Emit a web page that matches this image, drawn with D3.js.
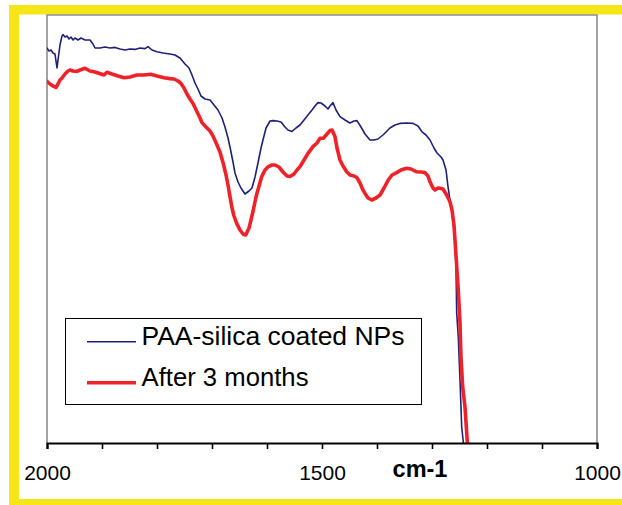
<!DOCTYPE html>
<html>
<head>
<meta charset="utf-8">
<script src="https://cdn.jsdelivr.net/npm/d3@7"></script>
<style>
  html, body { margin: 0; padding: 0; background: #ffffff; }
  svg { display: block; }
  text { font-family: Arial, "Liberation Sans", Helvetica, sans-serif; fill: #000; }
</style>
</head>
<body>
<svg id="chart" width="622" height="505"></svg>
<script>
// ---- Data (wavenumber cm-1, transmittance a.u.) ----
const seriesNames = ["PAA-silica coated NPs", "After 3 months"];
const seriesColors = ["#1f2178", "#ef2229"];

const paaWavenumber = [2000,1996.4,1992.7,1989.1,1985.5,1981.8,1980.0,1976.4,1972.7,1970.9,1967.3,1963.6,1960.0,1956.4,1952.7,1949.1,1943.6,1938.2,1930.9,1921.8,1916.4,1912.7,1903.6,1894.5,1885.5,1876.4,1867.3,1858.2,1849.1,1840.0,1830.9,1821.8,1816.4,1809.1,1800.0,1789.1,1776.4,1767.3,1758.2,1749.1,1741.8,1736.4,1730.9,1725.5,1720.0,1712.7,1703.6,1696.4,1689.1,1681.8,1676.4,1670.9,1667.3,1661.8,1658.2,1652.7,1647.3,1640.0,1632.7,1627.3,1621.8,1616.4,1610.9,1607.3,1601.8,1594.5,1589.1,1581.8,1574.5,1567.3,1561.8,1554.5,1547.3,1540.0,1532.7,1525.5,1518.2,1512.7,1507.3,1501.8,1494.5,1489.1,1485.5,1480.0,1474.5,1467.3,1458.2,1449.1,1441.8,1436.4,1429.1,1421.8,1412.7,1405.5,1398.2,1389.1,1381.8,1376.4,1367.3,1358.2,1345.5,1334.5,1325.5,1318.2,1310.9,1303.6,1296.4,1290.9,1283.6,1280.0,1274.5,1270.9,1267.3,1263.6,1260.0,1256.4,1255.1,1252.2,1249.1,1246.0,1243.1,1241.8];
const paaValues = [98.75,98.0,98.25,97.5,97.25,93.75,95.75,99.5,101.75,102.1,101.5,101.75,101.0,101.5,100.75,101.25,100.75,101.25,100.75,100.75,99.75,98.75,98.75,99.0,98.75,98.9,98.5,98.25,98.5,98.4,98.75,98.6,99.1,98.25,97.8,97.5,97.25,97.0,96.25,94.75,93.75,92.0,90.0,88.5,86.75,86.0,85.75,84.5,83.25,81.25,79.0,76.25,74.0,70.25,67.5,65.25,63.75,62.25,63.0,63.75,66.5,70.0,73.75,75.75,78.75,80.5,80.6,80.5,80.25,79.0,78.25,77.9,78.75,79.5,80.75,82.0,83.25,84.25,85.1,85.0,84.25,83.5,84.25,85.1,83.25,81.6,80.75,80.0,80.5,80.6,79.0,77.25,75.75,75.75,76.0,77.0,78.0,78.75,79.5,79.9,80.0,79.9,79.25,77.8,77.0,75.75,73.75,72.5,71.5,70.75,68.25,64.1,60.75,57.5,53.25,45.0,32.5,26.5,15.75,4.0,0.25,-1.75];

const agedWavenumber = [2000,1994.5,1989.1,1983.6,1980.0,1976.4,1972.7,1967.3,1961.8,1958.2,1952.7,1945.5,1940.0,1930.9,1921.8,1914.5,1907.3,1896.4,1890.9,1881.8,1870.9,1860.0,1849.1,1836.4,1823.6,1811.5,1800.0,1787.3,1776.4,1769.1,1761.8,1756.4,1750.9,1745.5,1740.0,1734.5,1727.3,1721.8,1718.2,1710.9,1703.6,1697.6,1690.9,1685.5,1679.5,1674.5,1670.9,1667.3,1663.6,1660.0,1655.1,1649.1,1643.6,1638.7,1632.7,1629.1,1624.9,1620.0,1614.5,1609.6,1603.6,1597.6,1590.9,1585.5,1578.2,1570.9,1563.6,1558.2,1550.9,1545.5,1540.0,1532.7,1525.5,1516.4,1509.1,1503.6,1497.6,1490.9,1485.5,1481.8,1476.4,1472.7,1467.3,1461.8,1455.1,1449.1,1441.8,1436.9,1430.9,1425.5,1421.8,1416.4,1409.6,1401.8,1394.5,1387.3,1379.5,1372.7,1364.2,1356.4,1346.0,1338.2,1327.8,1320.0,1312.7,1307.3,1303.6,1298.2,1294.5,1289.1,1285.5,1280.0,1273.3,1267.3,1263.6,1260.0,1256.4,1252.2,1249.1,1247.3,1244.2,1240.0,1235.8,1234.5];
const agedValues = [90.4,89.75,89.25,88.9,89.75,90.75,91.25,92.25,93.0,93.25,93.0,92.9,93.25,93.7,93.0,92.8,92.5,92.0,92.7,92.25,91.75,91.3,91.5,92.0,92.0,92.2,91.75,91.3,91.1,91.0,90.5,89.9,88.75,87.25,86.0,84.9,82.8,81.25,80.1,79.0,78.0,76.6,74.5,72.75,69.9,67.0,64.5,61.6,58.75,56.75,54.9,53.25,52.25,52.0,53.75,55.75,58.25,61.5,64.25,66.6,68.25,69.1,69.5,69.5,69.0,67.75,66.75,66.6,67.25,68.25,69.1,70.75,72.4,74.1,75.0,76.2,76.2,77.25,78.1,78.25,76.6,73.75,70.75,69.25,67.8,67.0,66.75,66.4,65.0,63.25,62.4,61.25,60.75,61.25,62.0,63.75,65.75,67.0,67.6,68.25,68.7,68.5,67.8,67.75,67.6,66.75,65.3,63.75,63.25,63.75,63.7,63.5,62.0,60.3,58.25,54.5,47.0,38.25,30.0,21.5,14.0,9.0,0.25,-1.75];

const xDomain = [2000, 1000];
const yDomain = [0, 107];
const xTickValues = [2000,1900,1800,1700,1600,1500,1400,1300,1200,1100,1000];
const xTickLabels = ["2000","1500","1000"];
const xTitle = "cm-1";

// ---- Layout ----
const W = 622, H = 505;
const plot = { left: 47, right: 597, top: 15, bottom: 443 };
const yellow = "#f5e617";

const svg = d3.select("#chart");

// yellow frame (left, top, bottom; right edge cropped)
svg.append("rect").attr("x", 9).attr("y", 5).attr("width", 10).attr("height", 500).attr("fill", yellow);
svg.append("rect").attr("x", 9).attr("y", 5).attr("width", W - 9).attr("height", 9.5).attr("fill", yellow);
svg.append("rect").attr("x", 9).attr("y", 499).attr("width", W - 9).attr("height", 6).attr("fill", yellow);

const x = d3.scaleLinear().domain(xDomain).range([plot.left, plot.right]);
const y = d3.scaleLinear().domain(yDomain).range([plot.bottom, plot.top]);

// plot frame (gray, left/top/right)
svg.append("path")
  .attr("d", `M${plot.left},${plot.bottom}V${plot.top}H${plot.right}V${plot.bottom}`)
  .attr("fill", "none").attr("stroke", "#8c8c8c").attr("stroke-width", 1.6);

// clip
svg.append("clipPath").attr("id", "clip")
  .append("rect").attr("x", plot.left).attr("y", plot.top)
  .attr("width", plot.right - plot.left).attr("height", plot.bottom - plot.top);

const series = [
  { name: seriesNames[0], color: seriesColors[0], width: 1.6, data: paaWavenumber.map((w, i) => [w, paaValues[i]]) },
  { name: seriesNames[1], color: seriesColors[1], width: 3.6, data: agedWavenumber.map((w, i) => [w, agedValues[i]]) }
];

const line = d3.line().x(d => x(d[0])).y(d => y(d[1])).curve(d3.curveLinear);

const g = svg.append("g").attr("clip-path", "url(#clip)");
series.forEach(s => {
  g.append("path").datum(s.data)
    .attr("d", line)
    .attr("fill", "none")
    .attr("stroke", s.color)
    .attr("stroke-width", s.width)
    .attr("stroke-linejoin", "round")
    .attr("stroke-linecap", "round");
});

// x axis
const axis = d3.axisBottom(x)
  .tickValues(xTickValues)
  .tickSize(6)
  .tickFormat(d => xTickLabels.includes(String(d)) ? String(d) : "");
const ax = svg.append("g").attr("transform", `translate(0,${plot.bottom})`).call(axis);
ax.select(".domain").attr("stroke", "#000").attr("stroke-width", 2.2);
ax.selectAll(".tick line").attr("stroke", "#000").attr("stroke-width", 1.6);
ax.selectAll(".tick text")
  .attr("y", 0).attr("dy", 0)
  .attr("transform", "translate(0,37)")
  .style("font-family", "Arial, 'Liberation Sans', sans-serif")
  .style("font-size", "21px")
  .attr("fill", "#000");

// axis title
svg.append("text")
  .attr("x", 420).attr("y", 477)
  .attr("text-anchor", "middle")
  .style("font-size", "23.5px").style("font-weight", "bold")
  .text(xTitle);

// legend
const lg = svg.append("g");
lg.append("rect").attr("x", 65.5).attr("y", 318.5).attr("width", 356).attr("height", 86)
  .attr("fill", "#fff").attr("stroke", "#000").attr("stroke-width", 1);
const legendRows = [341.7, 382.7];
const textBase = [345, 386];
const textLen = [263, 167];
series.forEach((s, i) => {
  lg.append("line").attr("x1", 87).attr("x2", 136)
    .attr("y1", legendRows[i]).attr("y2", legendRows[i])
    .attr("stroke", s.color).attr("stroke-width", s.width);
  lg.append("text").attr("x", 141.5).attr("y", textBase[i])
    .style("font-size", "25.5px")
    .attr("textLength", textLen[i])
    .attr("lengthAdjust", "spacingAndGlyphs")
    .text(s.name);
});
</script>
</body>
</html>
